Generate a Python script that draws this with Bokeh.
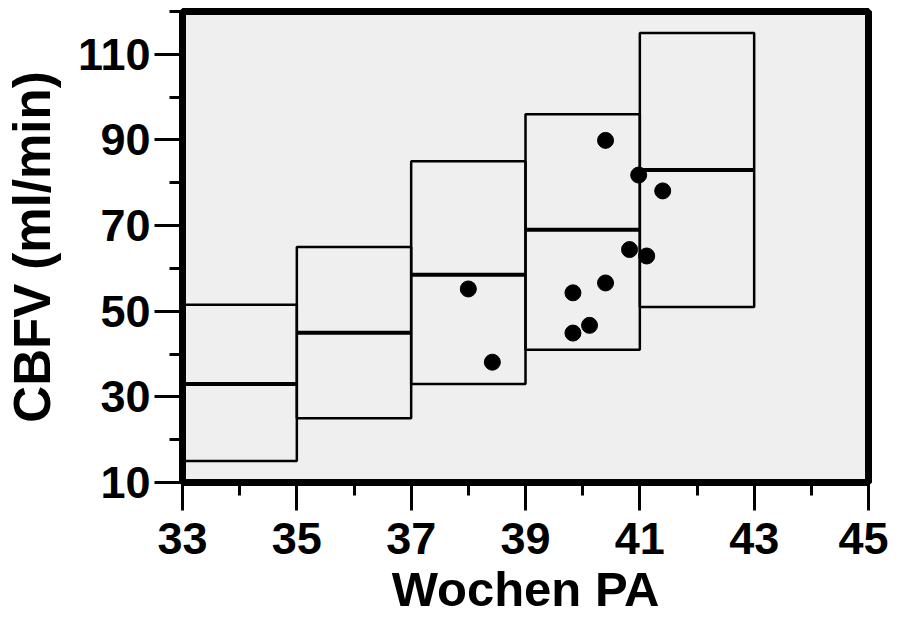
from bokeh.plotting import figure
from bokeh.models import Range1d, FixedTicker, ColumnDataSource
from bokeh.embed import file_html
from bokeh.resources import INLINE

# Reference boxes (weeks PA)
box_left = [33, 35, 37, 39, 41]
box_right = [35, 37, 39, 41, 43]
box_bottom = [15, 25, 33, 41, 51]
box_top = [51.5, 65, 85, 96, 115]
box_median = [33, 45, 58.5, 69, 83]

# Measured points
pt_week = [38.0, 38.42, 39.83, 39.83, 40.12, 40.4, 40.4, 40.82, 40.98, 41.12, 41.4]
pt_cbfv = [55.2, 38.1, 54.3, 44.9, 46.7, 56.6, 89.9, 64.4, 81.8, 62.9, 78.1]

x_major = [33, 35, 37, 39, 41, 43, 45]
x_minor = [34, 36, 38, 40, 42, 44]
y_major = [10, 30, 50, 70, 90, 110]
y_minor = [20, 40, 60, 80, 100, 120]

FONT = "Liberation Sans"

p = figure(width=888, height=618, output_backend="svg", toolbar_location=None,
           x_range=Range1d(33, 45), y_range=Range1d(10, 120),
           min_border_left=178, min_border_top=11, min_border_right=20, min_border_bottom=130)

p.background_fill_color = "#efefef"
p.border_fill_color = "white"
p.outline_line_color = "black"
p.outline_line_width = 7
p.xgrid.visible = False
p.ygrid.visible = False

box_src = ColumnDataSource(dict(left=box_left, right=box_right, bottom=box_bottom,
                                top=box_top, median=box_median))
p.quad(left="left", right="right", bottom="bottom", top="top", source=box_src,
       fill_alpha=0, line_color="black", line_width=2.5)
p.segment(x0="left", x1="right", y0="median", y1="median", source=box_src,
          line_color="black", line_width=4)

p.scatter(pt_week, pt_cbfv, size=16, color="black")

p.xaxis.ticker = FixedTicker(ticks=x_major, minor_ticks=x_minor)
p.yaxis.ticker = FixedTicker(ticks=y_major, minor_ticks=y_minor)

for ax in (p.xaxis[0], p.yaxis[0]):
    ax.axis_line_color = "black"
    ax.axis_line_width = 3
    ax.major_tick_in = 0
    ax.major_tick_out = 28
    ax.major_tick_line_width = 3
    ax.minor_tick_in = 0
    ax.minor_tick_out = 13
    ax.minor_tick_line_width = 3
    ax.major_label_text_font = FONT
    ax.major_label_text_font_style = "bold"
    ax.major_label_text_font_size = "45px"
    ax.major_label_text_color = "black"
    ax.axis_label_text_font = FONT
    ax.axis_label_text_font_style = "bold"
    ax.axis_label_text_color = "black"

p.xaxis.axis_label = "Wochen PA"
p.yaxis.axis_label = "CBFV (ml/min)"
p.xaxis.axis_label_text_font_size = "49px"
p.yaxis.axis_label_text_font_size = "51px"
p.xaxis.major_label_standoff = 12
p.yaxis.major_label_standoff = 4
p.xaxis.axis_label_standoff = 5
p.yaxis.axis_label_standoff = 14

open("out.html", "w").write(file_html(p, INLINE))
